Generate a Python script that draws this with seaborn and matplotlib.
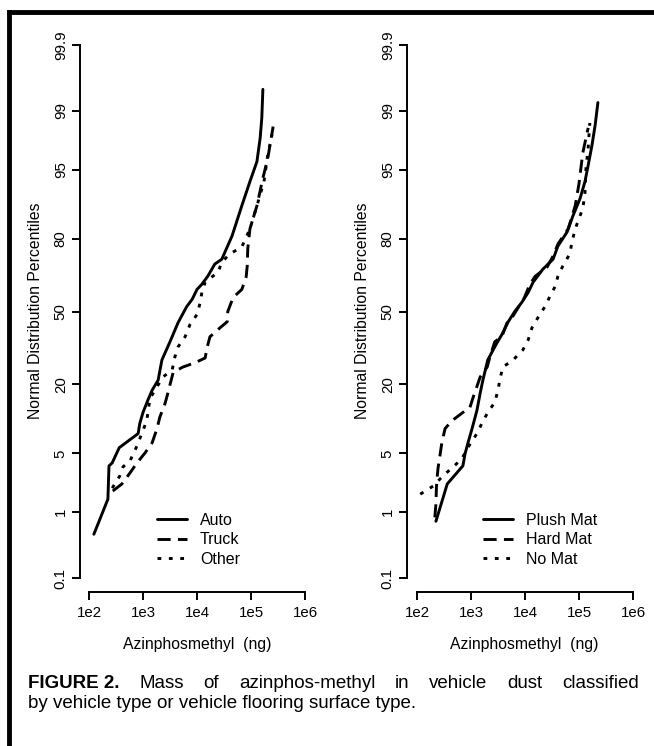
import numpy as np
import pandas as pd
import matplotlib
matplotlib.use('Agg')
import matplotlib.pyplot as plt
import seaborn as sns
from statistics import NormalDist
from matplotlib.ticker import NullLocator

sns.set_style('ticks')
plt.rcParams['font.family'] = ['Liberation Sans', 'DejaVu Sans']
plt.rcParams['text.color'] = 'black'
plt.rcParams['axes.labelcolor'] = 'black'

# values: log10 of mass (ng) and normal percentile
auto_log_ng = [2.09, 2.35, 2.37, 2.43, 2.56, 2.91, 2.94, 3.00, 3.09, 3.17, 3.28, 3.35, 3.50, 3.65,
               3.81, 3.91, 4.00, 4.09, 4.20, 4.33, 4.46, 4.65, 4.83, 4.98, 5.11, 5.17, 5.20, 5.22]
auto_pct = [0.49, 1.48, 3.67, 3.97, 5.72, 7.85, 9.7, 12.1, 15.2, 18.1, 21.3, 28.7, 36.3, 44.9,
            52.3, 55.6, 60.1, 62.4, 65.9, 70.9, 72.8, 81.0, 89.0, 93.4, 95.9, 97.8, 98.76, 99.5]

truck_log_ng = [2.44, 2.61, 2.76, 2.89, 3.04, 3.17, 3.26, 3.31, 3.41, 3.46, 3.56, 3.74, 3.96, 4.15,
                4.19, 4.24, 4.43, 4.56, 4.57, 4.67, 4.83, 4.91, 4.93, 4.94, 4.98, 5.11, 5.22, 5.31, 5.41]
truck_pct = [1.87, 2.28, 3.07, 3.97, 5.08, 6.42, 8.74, 10.97, 14.4, 17.2, 24.1, 26.0, 27.6, 29.5,
             34.1, 38.5, 42.6, 45.3, 50.0, 56.5, 60.1, 65.5, 70.1, 76.6, 83.1, 89.0, 93.9, 96.2, 98.4]

other_log_ng = [2.43, 2.57, 2.63, 2.76, 2.89, 3.00, 3.07, 3.13, 3.37, 3.54, 3.59, 3.65, 3.78, 3.87,
                4.00, 4.06, 4.09, 4.15, 4.39, 4.46, 4.61, 4.83, 4.98, 5.11, 5.24, 5.31, 5.39]
other_pct = [2.03, 2.83, 3.59, 4.17, 5.99, 8.4, 10.3, 15.7, 22.4, 24.9, 29.9, 34.1, 38.5, 44.0,
             48.6, 54.2, 58.8, 63.3, 67.6, 71.7, 74.8, 77.3, 83.1, 89.0, 93.4, 96.5, 98.0]

plush_log_ng = [2.35, 2.48, 2.56, 2.85, 2.89, 2.94, 3.02, 3.11, 3.17, 3.22, 3.31, 3.48, 3.57, 3.69,
                3.81, 3.94, 4.06, 4.15, 4.33, 4.52, 4.61, 4.78, 4.89, 5.02, 5.11, 5.17, 5.24, 5.30, 5.35]
plush_pct = [0.75, 1.52, 2.28, 3.68, 4.96, 6.28, 8.74, 12.6, 17.2, 21.3, 28.7, 35.8, 39.4, 45.3,
             50.0, 54.2, 58.8, 63.3, 68.8, 72.8, 77.6, 82.2, 86.7, 90.5, 93.4, 95.5, 97.3, 98.48, 99.23]

hard_log_ng = [2.33, 2.35, 2.36, 2.37, 2.39, 2.43, 2.46, 2.52, 2.65, 2.83, 2.98, 3.04, 3.17, 3.30,
               3.35, 3.44, 3.57, 3.67, 3.76, 3.91, 3.96, 4.09, 4.19, 4.41, 4.52, 4.61, 4.80, 4.93,
               5.00, 5.07, 5.13, 5.17]
hard_pct = [0.85, 1.27, 2.09, 2.61, 3.49, 4.96, 6.42, 8.74, 10.3, 11.9, 13.3, 16.0, 22.4, 26.0,
            29.9, 36.3, 38.5, 44.9, 47.2, 53.3, 54.7, 62.4, 65.9, 69.7, 74.0, 78.3, 83.1, 89.0,
            93.1, 96.7, 97.8, 98.34]

nomat_log_ng = [2.06, 2.30, 2.48, 2.65, 2.83, 2.94, 3.11, 3.20, 3.31, 3.44, 3.50, 3.54, 3.59, 3.78,
                3.96, 4.06, 4.13, 4.24, 4.37, 4.46, 4.56, 4.61, 4.70, 4.83, 4.87, 4.93, 5.07, 5.11,
                5.13, 5.17, 5.20]
nomat_pct = [1.71, 2.15, 2.83, 3.49, 4.38, 5.72, 7.85, 9.7, 12.1, 14.6, 18.1, 22.0, 26.0, 28.7,
             32.8, 37.2, 42.6, 47.2, 52.3, 56.9, 61.5, 65.9, 70.1, 74.8, 79.0, 83.1, 88.4, 91.4,
             95.2, 97.1, 98.56]

vehicle_groups = ['Auto', 'Truck', 'Other']
floor_groups = ['Plush Mat', 'Hard Mat', 'No Mat']

pct_ticks = [0.1, 1, 5, 20, 50, 80, 95, 99, 99.9]
pct_tick_labels = ['0.1', '1', '5', '20', '50', '80', '95', '99', '99.9']
mass_ticks = [1e2, 1e3, 1e4, 1e5, 1e6]
mass_tick_labels = ['1e2', '1e3', '1e4', '1e5', '1e6']

nd = NormalDist()


def pct_to_z(p):
    p = np.clip(np.asarray(p, dtype=float), 1e-6, 100 - 1e-6)
    return np.vectorize(lambda v: nd.inv_cdf(v / 100), otypes=[float])(p)


def z_to_pct(z):
    return np.vectorize(lambda v: nd.cdf(v) * 100, otypes=[float])(np.asarray(z, dtype=float))


def make_df(names, logs, pcts):
    parts = []
    for n, lg, pc in zip(names, logs, pcts):
        parts.append(pd.DataFrame({'mass': 10 ** np.array(lg), 'pct': pc, 'group': n}))
    return pd.concat(parts, ignore_index=True)


W, H = 654, 746
fig = plt.figure(figsize=(W / 100, H / 100), dpi=100)

dash_styles = ['', (4.5, 2.5), (1.3, 2.6)]


def draw_panel(ax_left_px, data, names, leg_x_px, xmin_log):
    ax = fig.add_axes([ax_left_px / W, 1 - 592 / H, 234 / W, 562 / H])
    sns.lineplot(data=data, x='mass', y='pct', style='group', style_order=names,
                 dashes=dict(zip(names, dash_styles)), color='black', lw=2.1,
                 estimator=None, sort=False, legend=False, ax=ax)
    for ln in ax.lines:
        ln.set_dash_capstyle('butt')
    ax.set_xscale('log')
    ax.set_yscale('function', functions=(pct_to_z, z_to_pct))
    ax.set_xlim(10 ** xmin_log, 10 ** (xmin_log + 234 / 54))
    ax.set_ylim(float(z_to_pct(-3.252)), float(z_to_pct(3.264)))
    ax.set_xticks(mass_ticks, labels=mass_tick_labels)
    ax.set_yticks(pct_ticks, labels=pct_tick_labels)
    ax.xaxis.set_minor_locator(NullLocator())
    ax.yaxis.set_minor_locator(NullLocator())
    sns.despine(ax=ax)
    ax.spines['left'].set_bounds(0.1, 99.9)
    ax.spines['bottom'].set_bounds(1e2, 1e6)
    for s in ['left', 'bottom']:
        ax.spines[s].set_linewidth(1.4)
        ax.spines[s].set_color('black')
    ax.tick_params(direction='out', length=5.8, width=1.4, labelsize=10.8, colors='black')
    ax.tick_params(axis='x', pad=4)
    ax.tick_params(axis='y', pad=3, labelrotation=90)
    for lab in ax.get_yticklabels():
        lab.set_va('center')
    ax.set_xlabel('Azinphosmethyl  (ng)', fontsize=11.3)
    ax.set_ylabel('Normal Distribution Percentiles', fontsize=11.3)
    ax.xaxis.set_label_coords(0.5, -0.080)
    ax.yaxis.set_label_coords(-0.158, 0.5)
    ax.legend(handles=ax.lines[:3], labels=names, loc='upper left',
              bbox_to_anchor=(leg_x_px / W, 1 - 513 / H), bbox_transform=fig.transFigure,
              frameon=False, borderpad=0, borderaxespad=0, handlelength=1.9,
              handletextpad=0.8, labelspacing=0.28, fontsize=11.5)
    ax.patch.set_alpha(0)
    return ax


veh_df = make_df(vehicle_groups, [auto_log_ng, truck_log_ng, other_log_ng],
                 [auto_pct, truck_pct, other_pct])
flr_df = make_df(floor_groups, [plush_log_ng, hard_log_ng, nomat_log_ng],
                 [plush_pct, hard_pct, nomat_pct])

draw_panel(80, veh_df, vehicle_groups, 157, 2 - 9 / 54)
draw_panel(407, flr_df, floor_groups, 483, 2 - 10 / 54)

# frame (cut off at right and bottom like the scan)
fig.add_artist(plt.Line2D([8.5 / W, 8.5 / W], [-0.05, 1 - 12 / H], transform=fig.transFigure,
                          color='black', lw=3.5, solid_capstyle='projecting'))
fig.add_artist(plt.Line2D([8.5 / W, 1.05], [1 - 12 / H, 1 - 12 / H], transform=fig.transFigure,
                          color='black', lw=3.5, solid_capstyle='projecting'))

# caption, first line justified
cap_size = 13.5
words1 = ['FIGURE 2.', 'Mass', 'of', 'azinphos-methyl', 'in', 'vehicle', 'dust', 'classified']
weights1 = ['bold'] + ['normal'] * 7
renderer = fig.canvas.get_renderer()
texts = [fig.text(0, 1 - 688 / H, w, fontsize=cap_size, weight=wt, va='baseline', ha='left')
         for w, wt in zip(words1, weights1)]
widths = [t.get_window_extent(renderer).width for t in texts]
gap = (639 - 28 - sum(widths)) / (len(words1) - 1)
xpos = 28
for t, wd in zip(texts, widths):
    t.set_x(xpos / W)
    xpos += wd + gap
fig.text(28 / W, 1 - 708 / H, 'by vehicle type or vehicle flooring surface type.',
         fontsize=cap_size, va='baseline', ha='left')

fig.savefig('out.png', dpi=100, facecolor='white')
